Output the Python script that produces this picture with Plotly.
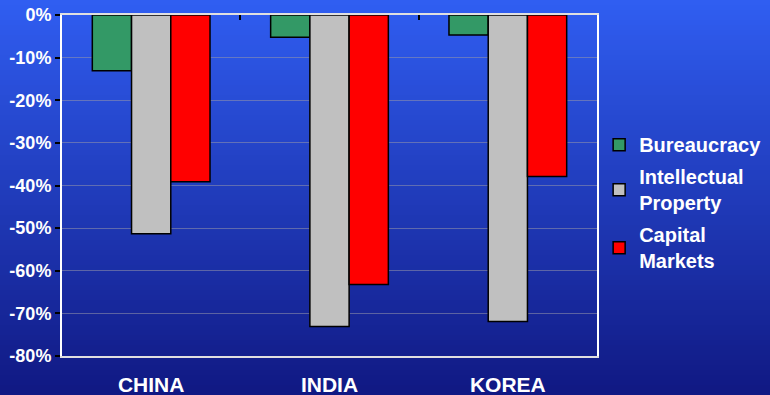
import plotly.graph_objects as go

categories = ["CHINA", "INDIA", "KOREA"]
bureaucracy = [-13.1, -5.2, -4.7]
intellectual_property = [-51.3, -73.1, -71.9]
capital_markets = [-39.1, -63.2, -37.9]
series_names = ["Bureaucracy", "Intellectual<br>Property", "Capital<br>Markets"]
tick_values = [0, -10, -20, -30, -40, -50, -60, -70, -80]
tick_labels = ["0%", "-10%", "-20%", "-30%", "-40%", "-50%", "-60%", "-70%", "-80%"]

colors = ["#339966", "#c0c0c0", "#ff0000"]
FAM = "Liberation Sans, Arial, sans-serif"

fig = go.Figure()
for i, (name, vals, c) in enumerate(zip(series_names, [bureaucracy, intellectual_property, capital_markets], colors)):
    fig.add_trace(go.Bar(x=categories, y=vals, name="<b>%s</b>" % name, legendgroup="g%d" % i,
                         marker=dict(color=c, line=dict(color="black", width=1.5))))

# dummy trace for top axis ticks at category boundaries
fig.add_trace(go.Scatter(x=categories, y=[None]*3, xaxis="x2", showlegend=False, hoverinfo="skip"))

# gradient background made of strips (paper coords), clamped to the page
W, H = 770, 395
L, R, T, B = 62, 173, 15, 39
pw, ph = W - L - R, H - T - B
top_col = (0x30, 0x5e, 0xf2)
bot_col = (0x10, 0x18, 0x82)
n = 79
shapes = []
for i in range(n):
    y0px = H * i / n
    y1px = min(H, H * (i + 1) / n + 1)
    f = (i + 0.5) / n
    col = tuple(round(top_col[k] + (bot_col[k] - top_col[k]) * f) for k in range(3))
    shapes.append(dict(type="rect", xref="paper", yref="paper", layer="below",
                       x0=-L / pw, x1=1 + R / pw,
                       y0=1 - (y1px - T) / ph, y1=1 - (y0px - T) / ph,
                       fillcolor="rgb(%d,%d,%d)" % col, line=dict(width=0)))

fig.update_layout(
    width=W, height=H, autosize=False,
    margin=dict(l=L, r=R, t=T, b=B, autoexpand=False),
    paper_bgcolor="#1a2a9a", plot_bgcolor="rgba(0,0,0,0)",
    shapes=shapes,
    barmode="group", bargap=0.34, bargroupgap=0,
    font=dict(family=FAM, color="white", size=18),
    showlegend=True,
    legend=dict(x=1.004, y=0.677, xanchor="left", yanchor="top",
                font=dict(family=FAM, size=20, color="white"),
                bgcolor="rgba(0,0,0,0)", tracegroupgap=3),
    xaxis=dict(showline=True, linecolor="#e0e0e0", linewidth=2, mirror=True,
               ticks="", tickfont=dict(size=21, color="white"), automargin=False,
               ticklabelstandoff=9,
               tickvals=categories, ticktext=["<b>%s</b>" % c for c in categories]),
    xaxis2=dict(overlaying="x", side="top", matches="x", showticklabels=False,
                ticks="inside", tickson="boundaries", ticklen=5, tickcolor="black",
                tickwidth=1.5, showgrid=False, showline=False, automargin=False),
    yaxis=dict(range=[-80, 0], tickvals=tick_values, automargin=False,
               ticktext=["<b>%s</b>" % t for t in tick_labels],
               showgrid=True, gridcolor="rgba(150,150,170,0.55)", gridwidth=1,
               showline=True, linecolor="white", linewidth=2, mirror=True,
               ticks="outside", ticklen=5, tickcolor="black", tickwidth=1.5,
               tickfont=dict(size=18, color="white"), zeroline=False),
)

fig.write_html("out.html", config={"displayModeBar": False},
               post_script="document.body.style.margin='0px';document.body.style.padding='0px';document.body.style.overflow='hidden';")
